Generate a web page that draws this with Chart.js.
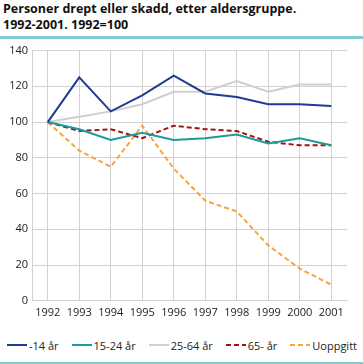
<!DOCTYPE html>
<html>
<head>
<meta charset="utf-8">
<script src="https://cdn.jsdelivr.net/npm/chart.js@4"></script>
<style>
  html, body { margin: 0; padding: 0; background: #fff; }
  body { width: 363px; height: 364px; position: relative; overflow: hidden; font-family: "Open Sans", sans-serif; }
  #title { position: absolute; left: 3px; top: 1px; font-weight: bold; font-size: 12.5px; line-height: 16px; color: #111; }
  #topline { position: absolute; left: 0; top: 36px; width: 363px; height: 3px; background: #80cccc; }
  #bottomline { position: absolute; left: 0; top: 362px; width: 363px; height: 2px; background: #80cccc; }
  #wrap { position: absolute; left: 0; top: 40px; width: 363px; height: 285px; }
  #legend { position: absolute; left: 7px; right: 6px; top: 337px; height: 16px; display: flex; justify-content: space-between; align-items: center; font-size: 11px; color: #222; }
  #legend .item { display: flex; align-items: center; white-space: nowrap; }
  #legend svg { margin-right: 2px; }
</style>
</head>
<body>
<div id="title">Personer drept eller skadd, etter aldersgruppe.<br>1992-2001. 1992=100</div>
<div id="topline"></div>
<div id="wrap"><canvas id="chart"></canvas></div>
<div id="legend"></div>
<div id="bottomline"></div>
<script>
// ---------- DATA ----------
const years = ["1992", "1993", "1994", "1995", "1996", "1997", "1998", "1999", "2000", "2001"];
const under14 = [100, 125, 106, 115, 126, 116, 114, 110, 110, 109];
const age15to24 = [100, 96, 90, 94, 90, 91, 93, 88, 91, 87];
const age25to64 = [100, 103, 106, 110, 117, 117, 123, 117, 121, 121];
const over65 = [100, 95, 96, 91, 98, 96, 95, 89, 87, 87];
const unknown = [100, 84, 75, 98, 74, 56, 50, 31, 18, 9];
const yTicks = [0, 20, 40, 60, 80, 100, 120, 140];

function series(label, data, color, dash) {
  return {
    label,
    data,
    borderColor: color,
    backgroundColor: color,
    borderWidth: 2,
    borderDash: dash || [],
    pointRadius: 0,
    tension: 0,
    fill: false,
  };
}

const chart = new Chart(document.getElementById("chart"), {
  type: "line",
  data: {
    labels: years,
    datasets: [
      series("-14 år", under14, "#1f3b93"),
      series("15-24 år", age15to24, "#1b9b9b"),
      series("25-64 år", age25to64, "#cfcfcf"),
      series("65- år", over65, "#a31313", [5, 3]),
      series("Uoppgitt", unknown, "#f8a43e", [5, 3]),
    ],
  },
  options: {
    responsive: true,
    maintainAspectRatio: false,
    animation: false,
    layout: { padding: { top: 9, right: 16, left: 0, bottom: 1 } },
    plugins: {
      tooltip: { enabled: false },
      legend: { display: false },
    },
    scales: {
      x: {
        offset: true,
        grid: { offset: false, color: "#d2d2d2", lineWidth: 1, drawTicks: false },
        border: { color: "#d2d2d2" },
        ticks: { color: "#222", padding: 5, font: { family: "Open Sans", size: 11 }, maxRotation: 0 },
      },
      y: {
        min: 0,
        max: 140,
        afterBuildTicks: (scale) => { scale.ticks = yTicks.map(v => ({ value: v })); },
        afterFit: (scale) => { scale.width = 32; },
        grid: { color: "#d2d2d2", lineWidth: 1, drawTicks: false },
        border: { color: "#d2d2d2" },
        ticks: { color: "#222", padding: 4, font: { family: "Open Sans", size: 11 } },
      },
    },
  },
});

// ---------- LEGEND (built from the chart's datasets) ----------
const legendEl = document.getElementById("legend");
chart.data.datasets.forEach(ds => {
  const item = document.createElement("div");
  item.className = "item";
  const dash = ds.borderDash.length ? ` stroke-dasharray="${ds.borderDash.join(",")}"` : "";
  item.innerHTML =
    `<svg width="20" height="4"><line x1="0" y1="2" x2="20" y2="2" stroke="${ds.borderColor}" stroke-width="2"${dash}/></svg>` +
    `<span>${ds.label}</span>`;
  legendEl.appendChild(item);
});
</script>
</body>
</html>
